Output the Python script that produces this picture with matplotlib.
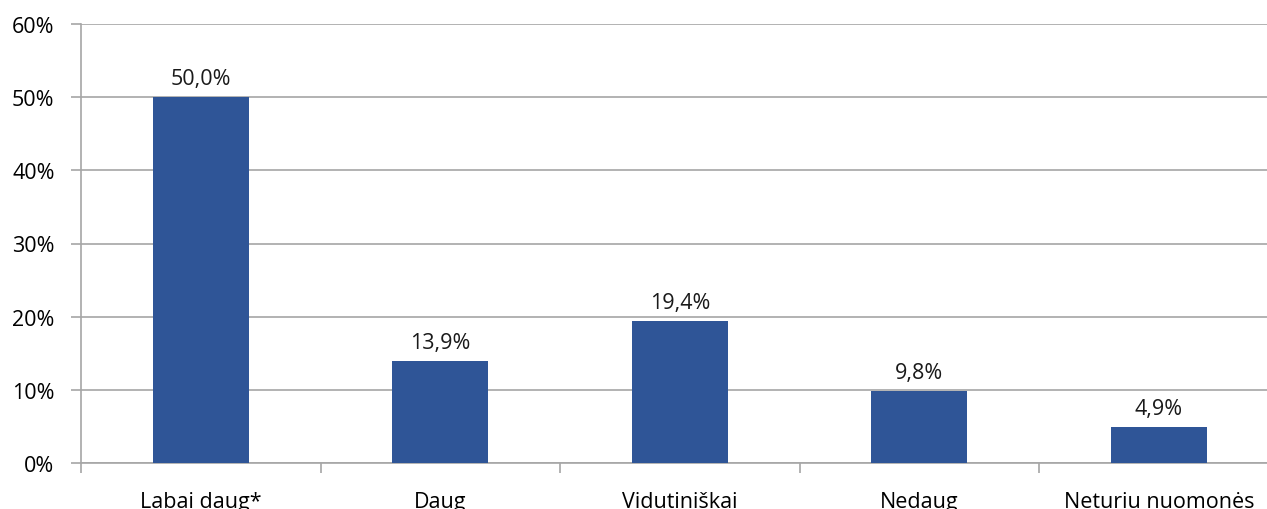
import matplotlib.pyplot as plt
import numpy as np

categories = ['Labai daug*', 'Daug', 'Vidutiniškai', 'Nedaug', 'Neturiu nuomonės']
values = [50.0, 13.9, 19.4, 9.8, 4.9]
yticks = [0, 10, 20, 30, 40, 50, 60]

plt.rcParams['font.family'] = ['Open Sans', 'DejaVu Sans']

fig = plt.figure(figsize=(12.67, 5.10), dpi=100)
# plot area runs past the right edge, as in the original
ax = fig.add_axes([81 / 1267, 1 - 464 / 510, 1197.5 / 1267, 439 / 510])

x = np.arange(len(categories))
ax.bar(x, values, width=0.4, color='#2F5597', zorder=3)
for xi, v in zip(x, values):
    ax.text(xi, v + 1.1, f'{v:.1f}%'.replace('.', ','), ha='center', va='bottom',
            fontsize=15.5, color='#1a1a1a')

ax.set_xlim(-0.5, len(categories) - 0.5)
ax.set_ylim(0, 60)
ax.set_yticks(yticks)
ax.set_yticklabels([f'{t}%' for t in yticks], fontsize=15.5)
ax.yaxis.grid(True, color='#A6A6A6', linewidth=1.2, zorder=0)

ax.set_xticks(x)
ax.set_xticklabels(categories, fontsize=15.5)
ax.set_xticks(np.arange(len(categories) + 1) - 0.5, minor=True)
ax.tick_params(axis='x', which='major', length=0, pad=20)
ax.tick_params(axis='x', which='minor', length=7, color='#A6A6A6', width=1.2)
ax.tick_params(axis='y', length=7, color='#A6A6A6', width=1.2, pad=12)

for s in ['top', 'right']:
    ax.spines[s].set_visible(False)
for s in ['left', 'bottom']:
    ax.spines[s].set_color('#A6A6A6')
    ax.spines[s].set_linewidth(1.2)

plt.savefig('out.png', dpi=100)
